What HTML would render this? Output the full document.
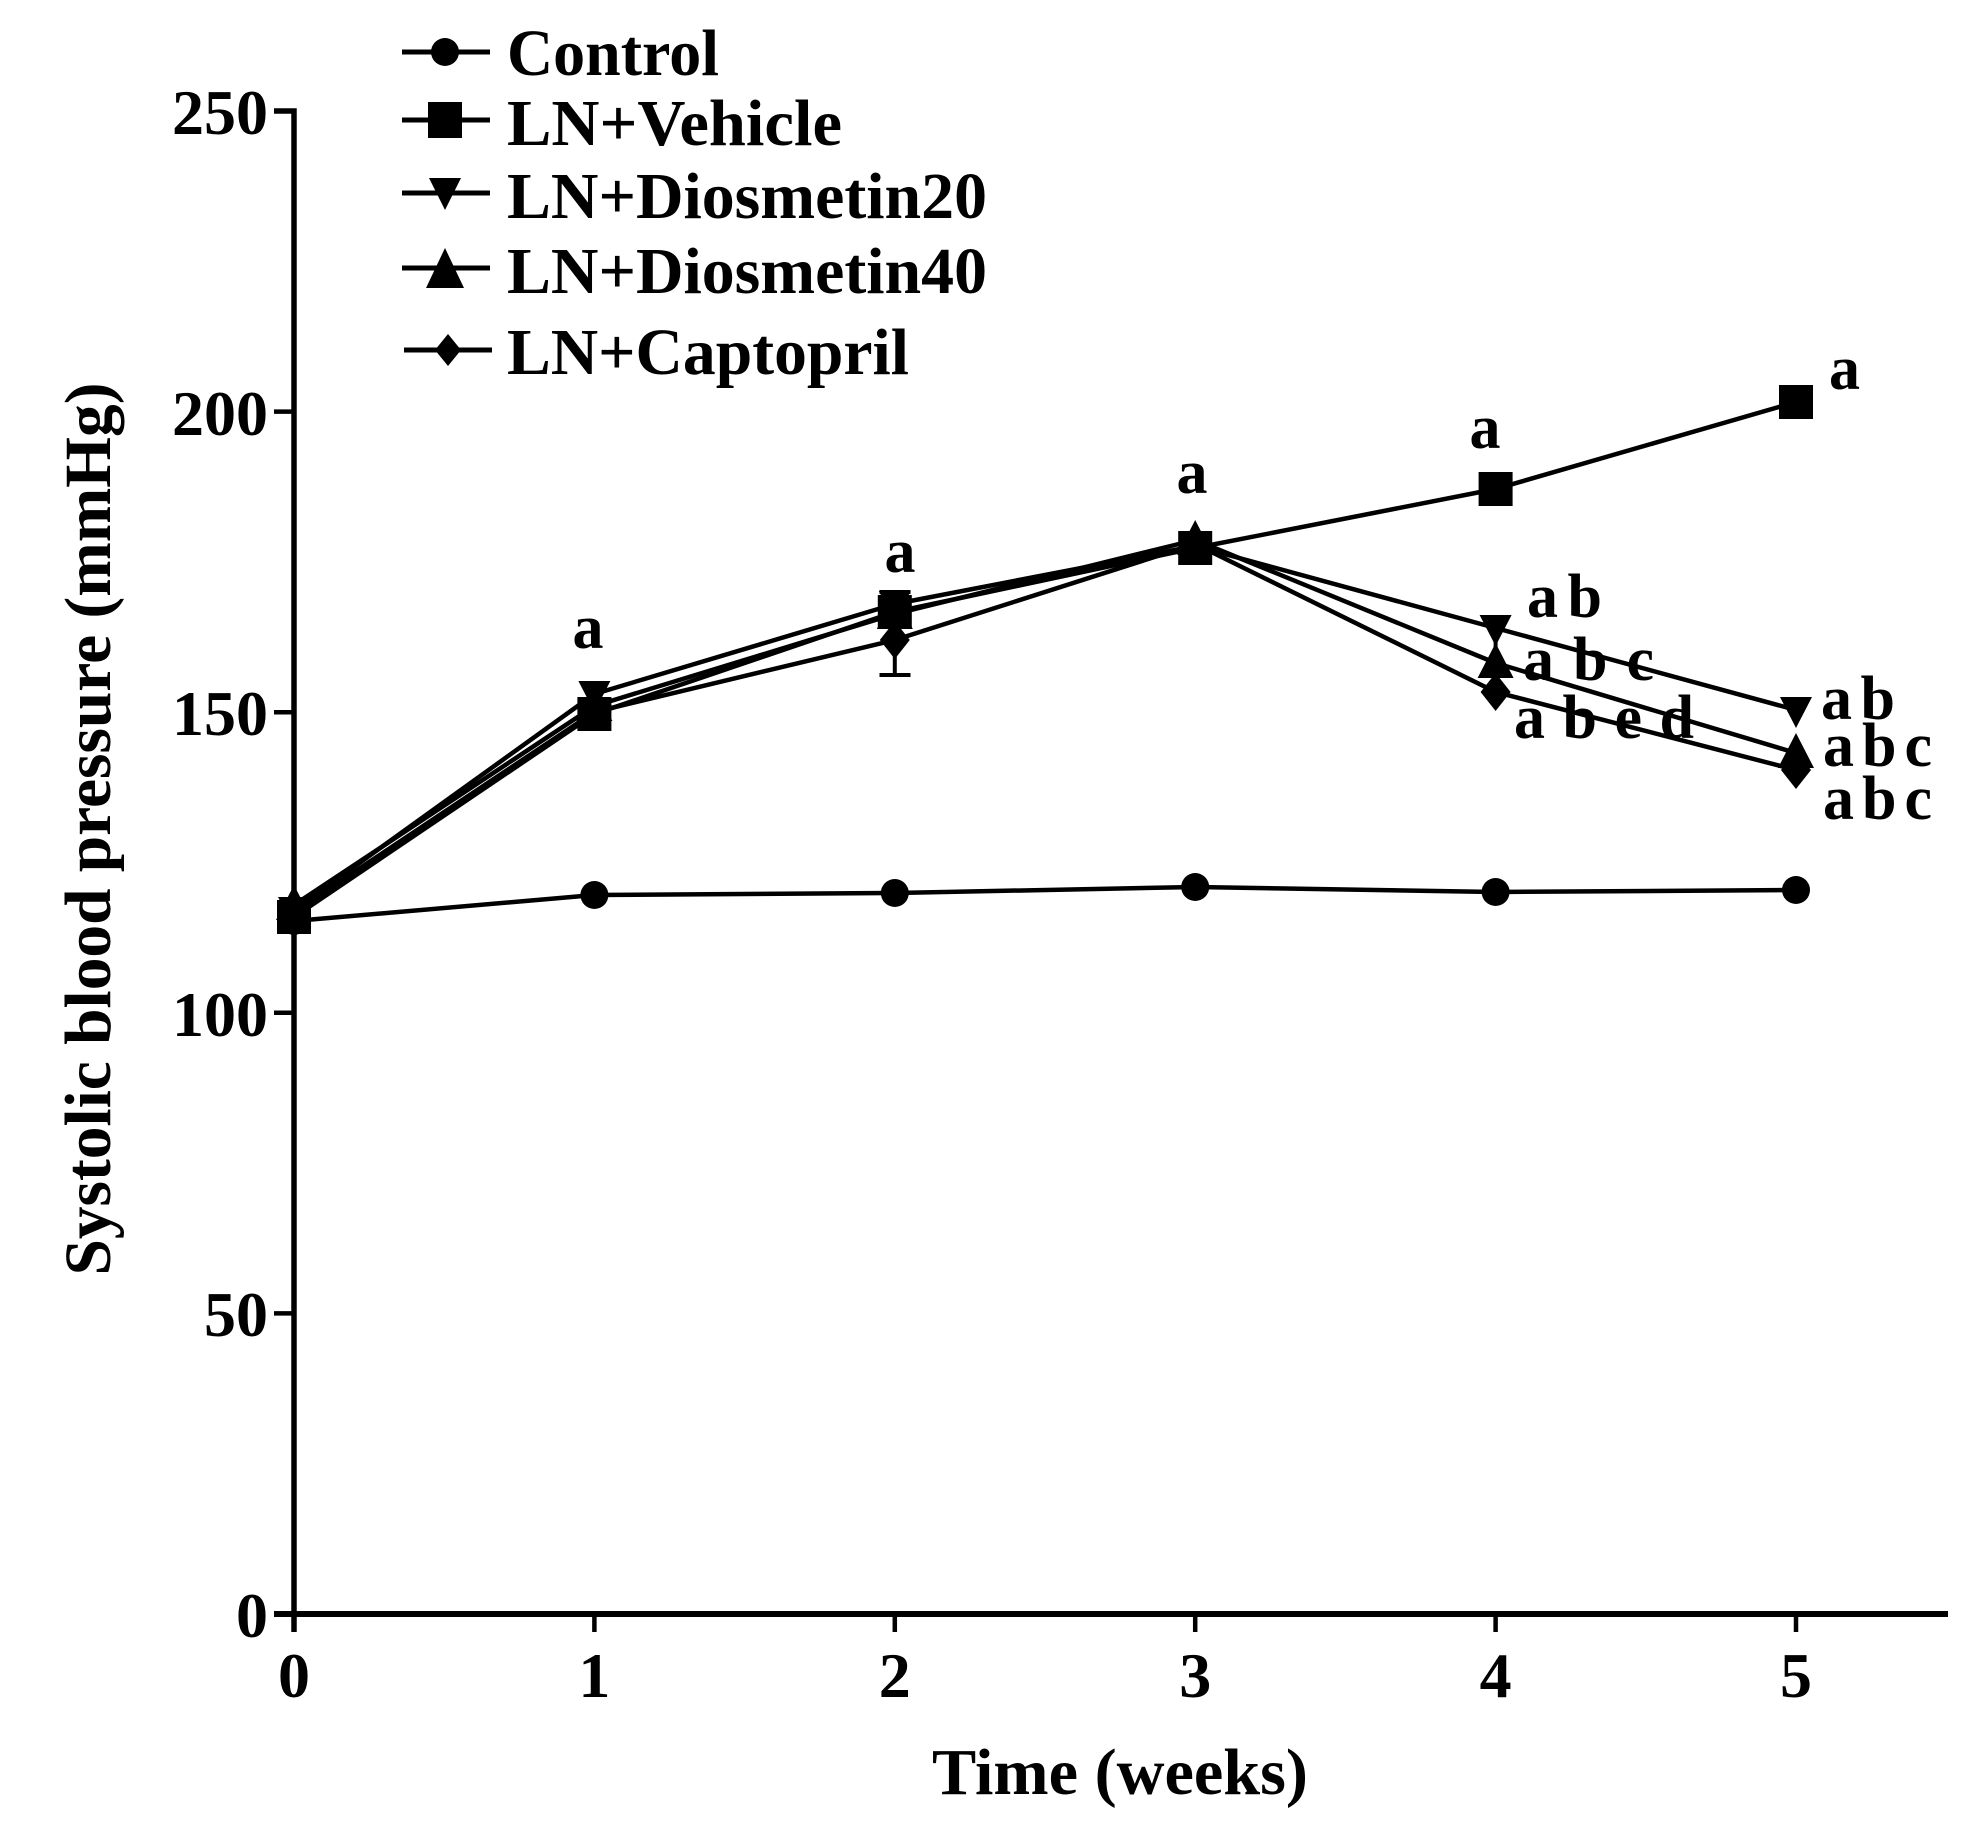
<!DOCTYPE html>
<html>
<head>
<meta charset="utf-8">
<style>
  html, body { margin: 0; padding: 0; background: #fff; }
  svg { display: block; }
  text { font-family: "Liberation Serif", "Times New Roman", serif; font-weight: bold; fill: #000; }
</style>
</head>
<body>
<svg width="1977" height="1836" viewBox="0 0 1977 1836" xmlns="http://www.w3.org/2000/svg">
  <rect x="0" y="0" width="1977" height="1836" fill="#fff"/>

  <defs>
    <circle id="mc" cx="0" cy="0" r="14"/>
    <rect id="ms" x="-17" y="-17" width="34" height="34"/>
    <polygon id="mdt" points="-16,-13 16,-13 0,18"/>
    <polygon id="mut" points="-18,15 18,15 0,-20"/>
    <polygon id="mdi" points="0,-19 15,0 0,19 -15,0"/>
  </defs>

  <!-- Axes -->
  <g stroke="#000" fill="none">
    <path d="M274,111 H294 V1632" stroke-width="5.5"/>
    <path d="M274,1614 H1948" stroke-width="6"/>
    <!-- y ticks -->
    <g stroke-width="4.5">
      <line x1="274" y1="1313.4" x2="294" y2="1313.4"/>
      <line x1="274" y1="1012.8" x2="294" y2="1012.8"/>
      <line x1="274" y1="712.2" x2="294" y2="712.2"/>
      <line x1="274" y1="411.6" x2="294" y2="411.6"/>
      <!-- x ticks -->
      <line x1="594.4" y1="1614" x2="594.4" y2="1632"/>
      <line x1="894.8" y1="1614" x2="894.8" y2="1632"/>
      <line x1="1195.2" y1="1614" x2="1195.2" y2="1632"/>
      <line x1="1495.6" y1="1614" x2="1495.6" y2="1632"/>
      <line x1="1796" y1="1614" x2="1796" y2="1632"/>
    </g>
  </g>

  <!-- Y tick labels -->
  <g font-size="64" text-anchor="end">
    <text x="268" y="1637">0</text>
    <text x="268" y="1336">50</text>
    <text x="268" y="1036">100</text>
    <text x="268" y="735">150</text>
    <text x="268" y="435">200</text>
    <text x="268" y="134">250</text>
  </g>

  <!-- X tick labels -->
  <g font-size="64" text-anchor="middle">
    <text x="294" y="1697">0</text>
    <text x="594.4" y="1697">1</text>
    <text x="894.8" y="1697">2</text>
    <text x="1195.2" y="1697">3</text>
    <text x="1495.6" y="1697">4</text>
    <text x="1796" y="1697">5</text>
  </g>

  <!-- Axis titles -->
  <text x="932" y="1794" font-size="66" textLength="376" lengthAdjust="spacingAndGlyphs">Time (weeks)</text>
  <text transform="translate(110,829) rotate(-90)" x="0" y="0" font-size="66" text-anchor="middle" textLength="893" lengthAdjust="spacingAndGlyphs">Systolic blood pressure (mmHg)</text>

  <!-- Legend -->
  <g stroke="#000" stroke-width="5">
    <line x1="402" y1="52" x2="490" y2="52"/>
    <line x1="402" y1="120" x2="490" y2="120"/>
    <line x1="402" y1="193" x2="490" y2="193"/>
    <line x1="402" y1="268" x2="490" y2="268"/>
    <line x1="404" y1="350" x2="492" y2="350"/>
  </g>
  <g fill="#000">
    <circle cx="445" cy="52" r="14"/>
    <rect x="428" y="102" width="34" height="36"/>
    <polygon points="429,178 461,178 445,210"/>
    <polygon points="426,288 464,288 445,248"/>
    <polygon points="448,334 461,350 448,366 435,350"/>
  </g>
  <g font-size="66">
    <text x="507" y="75" textLength="212" lengthAdjust="spacingAndGlyphs">Control</text>
    <text x="507" y="145" textLength="335" lengthAdjust="spacingAndGlyphs">LN+Vehicle</text>
    <text x="507" y="218" textLength="480" lengthAdjust="spacingAndGlyphs">LN+Diosmetin20</text>
    <text x="507" y="293" textLength="480" lengthAdjust="spacingAndGlyphs">LN+Diosmetin40</text>
    <text x="507" y="374" textLength="402" lengthAdjust="spacingAndGlyphs">LN+Captopril</text>
  </g>

  <!-- Significance labels -->
  <g font-size="62">
    <text x="588" y="648" text-anchor="middle">a</text>
    <text x="900" y="572" text-anchor="middle">a</text>
    <text x="1192" y="493" text-anchor="middle">a</text>
    <text x="1485" y="448" text-anchor="middle">a</text>
    <text x="1829" y="389">a</text>
    <text x="1527" y="617" textLength="75">a b</text>
    <text x="1523" y="680" textLength="131">a b c</text>
    <text x="1514" y="738" textLength="180">a b e d</text>
    <text x="1821" y="719" textLength="74">a b</text>
    <text x="1823" y="766" textLength="109">a b c</text>
    <text x="1823" y="819" textLength="109">a b c</text>
  </g>

  <!-- Error bars -->
  <g stroke="#000" stroke-width="4">
    <line x1="894.8" y1="592" x2="894.8" y2="675"/>
    <line x1="879.5" y1="592" x2="910.5" y2="592"/>
    <line x1="879.5" y1="675" x2="910.5" y2="675"/>
    <line x1="1495.6" y1="630" x2="1495.6" y2="690"/>
  </g>

  <!-- Data lines -->
  <g fill="none" stroke="#000" stroke-width="4.5" stroke-linejoin="round">
    <!-- Control -->
    <polyline points="294,921 594.4,895 894.8,893 1195.2,887 1495.6,892 1796,890"/>
    <!-- Captopril -->
    <polyline points="294,912 594.4,712 894.8,640 1195.2,544 1495.6,692 1796,770"/>
    <!-- Diosmetin40 -->
    <polyline points="294,905 594.4,706 894.8,614 1195.2,540 1495.6,663 1796,753"/>
    <!-- Diosmetin20 -->
    <polyline points="294,910 594.4,694 894.8,604 1195.2,546 1495.6,628 1796,710"/>
    <!-- Vehicle -->
    <polyline points="294,917 594.4,714 894.8,612 1195.2,548 1495.6,489 1796,402"/>
  </g>

  <!-- Markers -->
  <g fill="#000">
    <!-- Control circles -->
    <use href="#mc" x="294" y="921"/>
    <use href="#mc" x="594.4" y="895"/>
    <use href="#mc" x="894.8" y="893"/>
    <use href="#mc" x="1195.2" y="887"/>
    <use href="#mc" x="1495.6" y="892"/>
    <use href="#mc" x="1796" y="890"/>
    <!-- Captopril diamonds -->
    <use href="#mdi" x="294" y="912"/>
    <use href="#mdi" x="594.4" y="712"/>
    <use href="#mdi" x="894.8" y="640"/>
    <use href="#mdi" x="1195.2" y="544"/>
    <use href="#mdi" x="1495.6" y="692"/>
    <use href="#mdi" x="1796" y="770"/>
    <!-- Diosmetin40 up triangles -->
    <use href="#mut" x="294" y="905"/>
    <use href="#mut" x="594.4" y="706"/>
    <use href="#mut" x="894.8" y="614"/>
    <use href="#mut" x="1195.2" y="540"/>
    <use href="#mut" x="1495.6" y="663"/>
    <use href="#mut" x="1796" y="753"/>
    <!-- Diosmetin20 down triangles -->
    <use href="#mdt" x="294" y="910"/>
    <use href="#mdt" x="594.4" y="694"/>
    <use href="#mdt" x="894.8" y="604"/>
    <use href="#mdt" x="1195.2" y="546"/>
    <use href="#mdt" x="1495.6" y="628"/>
    <use href="#mdt" x="1796" y="710"/>
    <!-- Vehicle squares -->
    <use href="#ms" x="294" y="917"/>
    <use href="#ms" x="594.4" y="714"/>
    <use href="#ms" x="894.8" y="612"/>
    <use href="#ms" x="1195.2" y="548"/>
    <use href="#ms" x="1495.6" y="489"/>
    <use href="#ms" x="1796" y="402"/>
  </g>
</svg>
</body>
</html>
